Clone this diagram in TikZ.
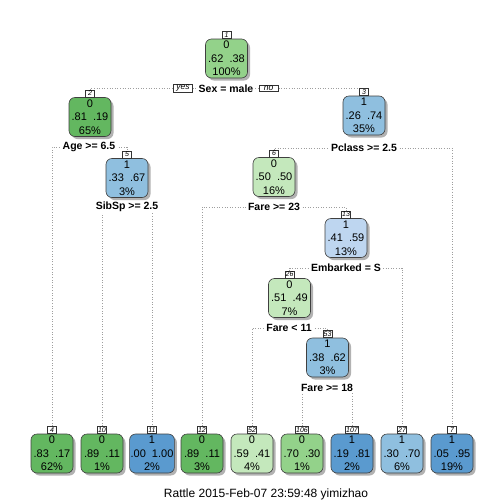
\documentclass[tikz,border=0pt]{standalone}
\usepackage{fontspec}
\setmainfont{Liberation Sans}
\usetikzlibrary{shadows,backgrounds}
\definecolor{gDark}{HTML}{63B760}
\definecolor{gMed}{HTML}{93D28A}
\definecolor{gLight}{HTML}{C4E8BC}
\definecolor{bLight}{HTML}{BED6F0}
\definecolor{bMed}{HTML}{8FBFDF}
\definecolor{bDark}{HTML}{5A9ACF}
\tikzset{
 box/.style={draw=black!75, line width=0.6pt, rounded corners=6pt, minimum width=42pt, minimum height=39pt, inner sep=1pt, align=center, font=\fontsize{11}{13.5}\selectfont, drop shadow={shadow xshift=2.5pt, shadow yshift=-2.5pt, fill=black, opacity=0.3}},
 tagbox/.style={draw=black!80, fill=white, line width=0.5pt, inner sep=0.8pt, minimum height=7pt, minimum width=9pt, font=\fontsize{7}{7}\selectfont\itshape, anchor=south},
 splitlab/.style={fill=white, inner xsep=2pt, inner ysep=1pt, font=\fontsize{10.5}{12}\selectfont\bfseries},
 yn/.style={draw=black!80, fill=white, line width=0.5pt, inner sep=0.8pt, font=\fontsize{8.5}{9}\selectfont\itshape, minimum width=19pt},
 branch/.style={draw=black!38, line width=1pt, dash pattern=on 1pt off 1.6pt},
}
\begin{document}
\begin{tikzpicture}[x=1pt,y=-1pt]
\useasboundingbox (0,0) rectangle (504,504);
% inner nodes
\node[box, fill=gMed]   (n1)  at (226.5,58.5) {0\\.62\ \ .38\\100\%};
\node[box, fill=gDark]  (n2)  at (90,117)     {0\\.81\ \ .19\\65\%};
\node[box, fill=bMed]   (n3)  at (364,115.5)  {1\\.26\ \ .74\\35\%};
\node[box, fill=bMed]   (n5)  at (127,178)    {1\\.33\ \ .67\\3\%};
\node[box, fill=gLight] (n6)  at (274,177)    {0\\.50\ \ .50\\16\%};
\node[box, fill=bLight] (n13) at (346,238)    {1\\.41\ \ .59\\13\%};
\node[box, fill=gLight] (n26) at (289.5,298)  {0\\.51\ \ .49\\7\%};
\node[box, fill=bMed]   (n53) at (327.5,357.5){1\\.38\ \ .62\\3\%};
% leaves
\node[box, fill=gDark]  (n4)   at (52,453.5)  {0\\.83\ \ .17\\62\%};
\node[box, fill=gDark]  (n10)  at (102,453.5) {0\\.89\ \ .11\\1\%};
\node[box, fill=bDark]  (n11)  at (152,453.5) {1\\.00\ \ 1.00\\2\%};
\node[box, fill=gDark]  (n12)  at (202,453.5) {0\\.89\ \ .11\\3\%};
\node[box, fill=gLight] (n52)  at (252,453.5) {0\\.59\ \ .41\\4\%};
\node[box, fill=gMed]   (n106) at (302,453.5) {0\\.70\ \ .30\\1\%};
\node[box, fill=bDark]  (n107) at (352,453.5) {1\\.19\ \ .81\\2\%};
\node[box, fill=bMed]   (n27)  at (402,453.5) {1\\.30\ \ .70\\6\%};
\node[box, fill=bDark]  (n7)   at (452,453.5) {1\\.05\ \ .95\\19\%};
% tags
\node[tagbox] (t1)   at (n1.north)   {1};
\node[tagbox] (t2)   at (n2.north)   {2};
\node[tagbox] (t3)   at (n3.north)   {3};
\node[tagbox] (t5)   at (n5.north)   {5};
\node[tagbox] (t6)   at (n6.north)   {6};
\node[tagbox] (t13)  at (n13.north)  {13};
\node[tagbox] (t26)  at (n26.north)  {26};
\node[tagbox] (t53)  at (n53.north)  {53};
\node[tagbox] (t4)   at (n4.north)   {4};
\node[tagbox] (t10)  at (n10.north)  {10};
\node[tagbox] (t11)  at (n11.north)  {11};
\node[tagbox] (t12)  at (n12.north)  {12};
\node[tagbox] (t52)  at (n52.north)  {52};
\node[tagbox] (t106) at (n106.north) {106};
\node[tagbox] (t107) at (n107.north) {107};
\node[tagbox] (t27)  at (n27.north)  {27};
\node[tagbox] (t7)   at (n7.north)   {7};
% split labels
\node[splitlab] (s1)  at (226,88.5)  {Sex = male};
\node[yn] (yes) at (183,88.5) {yes};
\node[yn] (no)  at (268.5,88.5) {no};
\node[splitlab] (s2)  at (89,147)    {Age >= 6.5};
\node[splitlab] (s3)  at (364,148)   {Pclass >= 2.5};
\node[splitlab] (s5)  at (127,207)   {SibSp >= 2.5};
\node[splitlab] (s6)  at (274,207)   {Fare >= 23};
\node[splitlab] (s13) at (346,268)   {Embarked = S};
\node[splitlab] (s26) at (289,328)   {Fare < 11};
\node[splitlab] (s53) at (327,388)   {Fare >= 18};
% title
\node[font=\fontsize{12}{14}\selectfont] (title) at (266,494) {Rattle 2015-Feb-07 23:59:48 yimizhao};
% branches
\begin{scope}[on background layer]
\fill[white] (0,0) rectangle (504,504);
\draw[branch] (t2.north) |- (s1.center) -| (t3.north);
\draw[branch] (t4.north) |- (s2.center) -| (t5.north);
\draw[branch] (t10.north) |- (s5.center) -| (t11.north);
\draw[branch] (t6.north) |- (s3.center) -| (t7.north);
\draw[branch] (t12.north) |- (s6.center) -| (t13.north);
\draw[branch] (t26.north) |- (s13.center) -| (t27.north);
\draw[branch] (t52.north) |- (s26.center) -| (t53.north);
\draw[branch] (t106.north) |- (s53.center) -| (t107.north);
\end{scope}
\end{tikzpicture}
\end{document}
